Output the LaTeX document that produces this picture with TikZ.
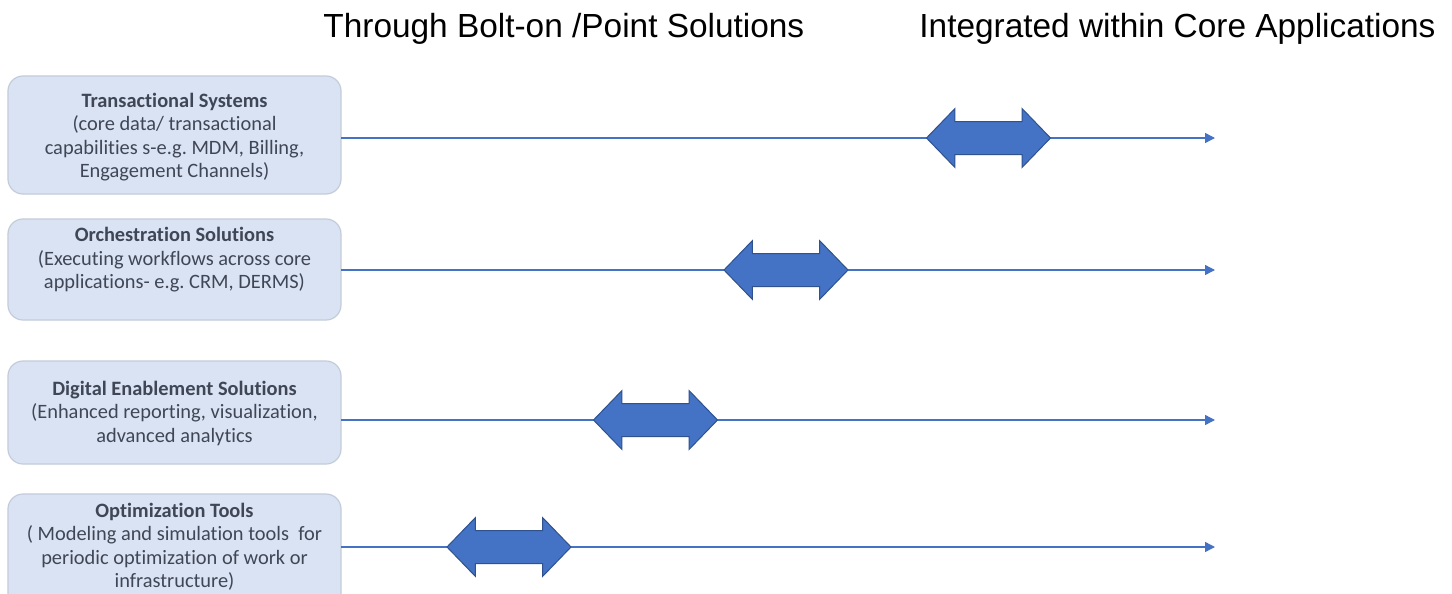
\documentclass[tikz,border=0pt]{standalone}
\usepackage{fontspec}
\setmainfont{Carlito}[Ligatures=NoCommon]
\newfontfamily\headfont{Liberation Sans}
\usetikzlibrary{shapes.arrows,arrows.meta}
\frenchspacing
\definecolor{boxfill}{HTML}{DAE3F3}
\definecolor{boxedge}{HTML}{C3CCDB}
\definecolor{boxtext}{HTML}{3F4756}
\definecolor{accent}{HTML}{4472C4}
\definecolor{accentedge}{HTML}{2F528F}
\tikzset{
  catbox/.style={draw=boxedge, line width=0.6pt, fill=boxfill, rounded corners=7.5pt},
  cattext/.style={text=boxtext, align=center, inner sep=0pt,
    font=\fontsize{10.2pt}{11.75pt}\selectfont},
  track/.style={draw=accent, line width=0.7pt, -{Triangle[length=5pt,width=5pt]}},
  slider/.style={double arrow, double arrow head extend=6.5pt, double arrow tip angle=92,
    minimum width=29pt, minimum height=62pt, inner xsep=0pt, inner ysep=8pt,
    fill=accent, draw=accentedge, line width=0.5pt},
  heading/.style={anchor=base west, inner sep=0pt, font=\headfont\fontsize{16.7pt}{20pt}\selectfont}
}
\begin{document}
\begin{tikzpicture}[x=0.5pt,y=-0.5pt]
\useasboundingbox (0,0) rectangle (1452,594);
\clip (0,0) rectangle (1452,594);
\fill[white] (0,0) rectangle (1452,594);

% column headings
\node[heading] (hleft) at (323,38) {Through Bolt-on /Point Solutions};
\node[heading] (hright) at (919,38) {Integrated within Core Applications};

% category boxes
\draw[catbox] (8,76) rectangle (341,194);
\node[cattext] (b1) at (174.5,137)
  {\textbf{Transactional Systems}\\(core data/ transactional\\capabilities s-e.g. MDM, Billing,\\Engagement Channels)};
\draw[catbox] (8,219) rectangle (341,320);
\node[cattext] (b2) at (174.5,260)
  {\textbf{Orchestration Solutions}\\(Executing workflows across core\\applications- e.g. CRM, DERMS)};
\draw[catbox] (8,361) rectangle (341,464);
\node[cattext] (b3) at (174.5,413)
  {\textbf{Digital Enablement Solutions}\\(Enhanced reporting, visualization,\\advanced analytics};
\draw[catbox] (8,494) rectangle (341,610);
\node[cattext] (b4) at (174.5,547)
  {\textbf{Optimization Tools}\\( Modeling and simulation tools\ \ for\\periodic optimization of work or\\infrastructure)};

% line anchors
\coordinate (s1) at (341,138); \coordinate (e1) at (1215,138);
\coordinate (s2) at (341,270); \coordinate (e2) at (1215,270);
\coordinate (s3) at (341,420); \coordinate (e3) at (1215,420);
\coordinate (s4) at (341,547); \coordinate (e4) at (1215,547);

\draw[track] (s1) -- (e1);
\draw[track] (s2) -- (e2);
\draw[track] (s3) -- (e3);
\draw[track] (s4) -- (e4);

% position sliders
\node[slider] (d1) at (988.5,138) {};
\node[slider] (d2) at (786,270) {};
\node[slider] (d3) at (655.5,420) {};
\node[slider] (d4) at (509,547) {};
\end{tikzpicture}
\end{document}
